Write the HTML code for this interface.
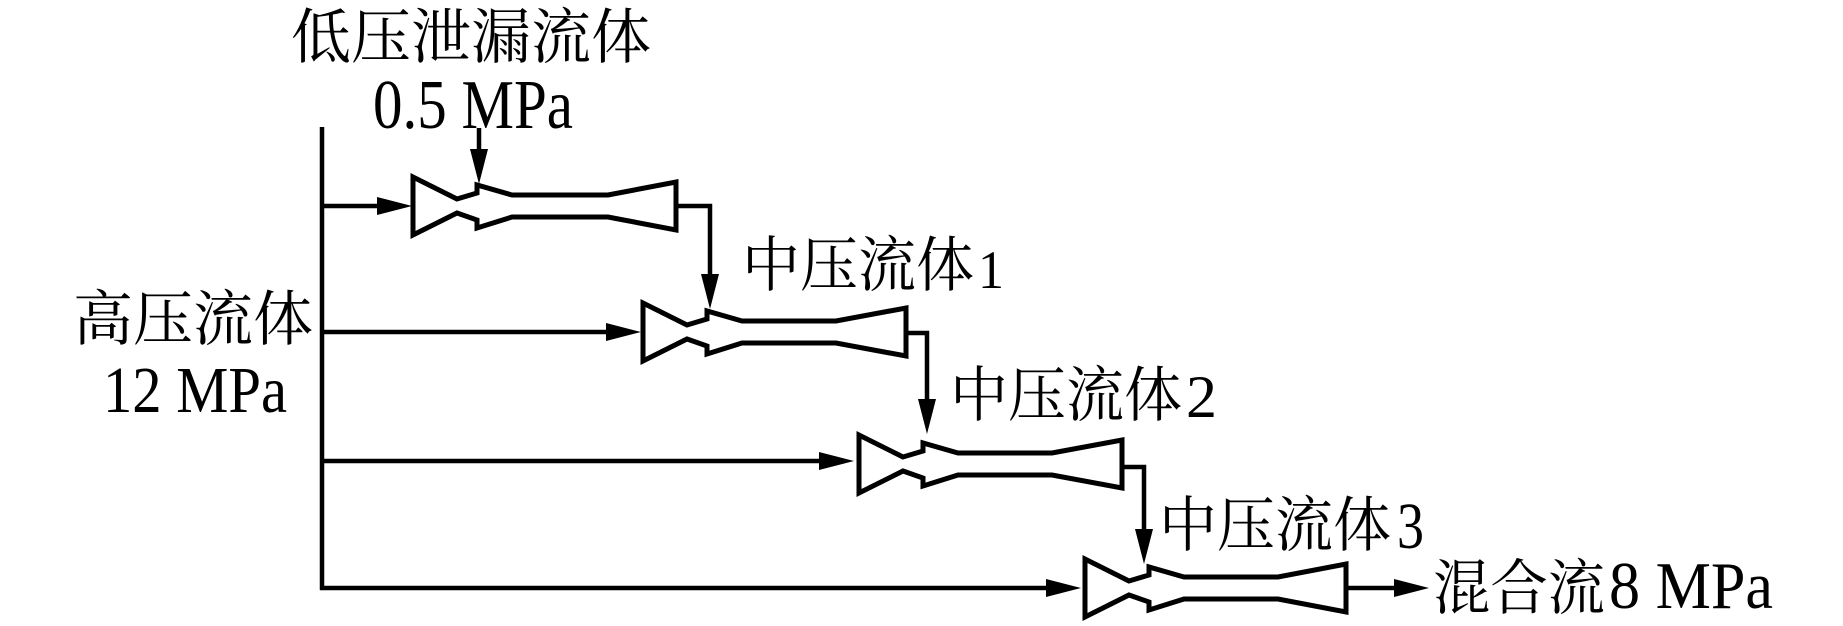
<!DOCTYPE html>
<html>
<head>
<meta charset="utf-8">
<style>
  html, body { margin: 0; padding: 0; background: #fff; }
  body { width: 1843px; height: 626px; overflow: hidden; }
  svg { display: block; }
  .cjk { font-family: "Liberation Serif", "Noto Serif CJK SC", "Noto Sans CJK SC", serif; font-size: 60px; fill: #000; }
  .lat { font-family: "Liberation Serif", serif; fill: #000; }
</style>
</head>
<body>
<svg width="1843" height="626" viewBox="0 0 1843 626" xmlns="http://www.w3.org/2000/svg">
  <rect width="1843" height="626" fill="#fff"/>

  <!-- Ejectors -->
  <g fill="none" stroke="#000" stroke-width="5" stroke-linejoin="miter">
    <path d="M457 199 L413 177 L413 235 L457 213 L477 220 L477 228 L512 217 L608 217 L676 230 L676 182 L608 195 L512 195 L477 185 L477 193 Z"/>
    <path d="M687 325 L643 303 L643 361 L687 339 L707 346 L707 354 L742 343 L836 343 L906 356 L906 308 L836 321 L742 321 L707 311 L707 319 Z"/>
    <path d="M903 457 L859 435 L859 493 L903 471 L923 478 L923 486 L958 475 L1052 475 L1122 488 L1122 440 L1052 453 L958 453 L923 443 L923 451 Z"/>
    <path d="M1129 581 L1085 559 L1085 617 L1129 595 L1149 602 L1149 610 L1184 599 L1278 599 L1346 612 L1346 564 L1278 577 L1184 577 L1149 567 L1149 575 Z"/>
  </g>

  <!-- Connector lines -->
  <g fill="none" stroke="#000" stroke-width="4.5" stroke-linejoin="miter" stroke-linecap="butt">
    <path d="M322 127 V590"/>
    <path d="M320 206 H385"/>
    <path d="M320 332 H612"/>
    <path d="M320 461 H825"/>
    <path d="M320 588 H1052"/>
    <path d="M479 128 V152"/>
    <path d="M676 206 H710 V278"/>
    <path d="M906 333 H927 V403"/>
    <path d="M1122 467 H1144 V533"/>
    <path d="M1346 588 H1398"/>
  </g>

  <!-- Arrowheads -->
  <g fill="#000" stroke="none">
    <polygon points="412,206 377,197 377,215"/>
    <polygon points="641,332 606,323 606,341"/>
    <polygon points="854,461 819,452 819,470"/>
    <polygon points="1081,588 1046,579 1046,597"/>
    <polygon points="479,184 470,149 488,149"/>
    <polygon points="710,309 701,274 719,274"/>
    <polygon points="927,434 918,399 936,399"/>
    <polygon points="1144,564 1135,529 1153,529"/>
    <polygon points="1429,588 1394,579 1394,597"/>
  </g>

  <!-- Labels -->
  <text class="cjk" x="291" y="58">低压泄漏流体</text>
  <text class="lat" x="373" y="128" font-size="70" textLength="200" lengthAdjust="spacingAndGlyphs">0.5 MPa</text>

  <text class="cjk" x="73" y="340">高压流体</text>
  <text class="lat" x="103" y="412" font-size="66" textLength="184" lengthAdjust="spacingAndGlyphs">12 MPa</text>

  <text class="cjk" x="742" y="286" textLength="232" lengthAdjust="spacingAndGlyphs">中压流体</text>
  <text class="lat" x="978" y="288" font-size="54" textLength="26" lengthAdjust="spacingAndGlyphs">1</text>

  <text class="cjk" x="950" y="416" textLength="232" lengthAdjust="spacingAndGlyphs">中压流体</text>
  <text class="lat" x="1186" y="417" font-size="60" textLength="31" lengthAdjust="spacingAndGlyphs">2</text>

  <text class="cjk" x="1159" y="546" textLength="232" lengthAdjust="spacingAndGlyphs">中压流体</text>
  <text class="lat" x="1397" y="548" font-size="66" textLength="27" lengthAdjust="spacingAndGlyphs">3</text>

  <text class="cjk" x="1433" y="609" textLength="172" lengthAdjust="spacingAndGlyphs">混合流</text>
  <text class="lat" x="1609" y="608" font-size="67" textLength="164" lengthAdjust="spacingAndGlyphs">8 MPa</text>
</svg>
</body>
</html>
